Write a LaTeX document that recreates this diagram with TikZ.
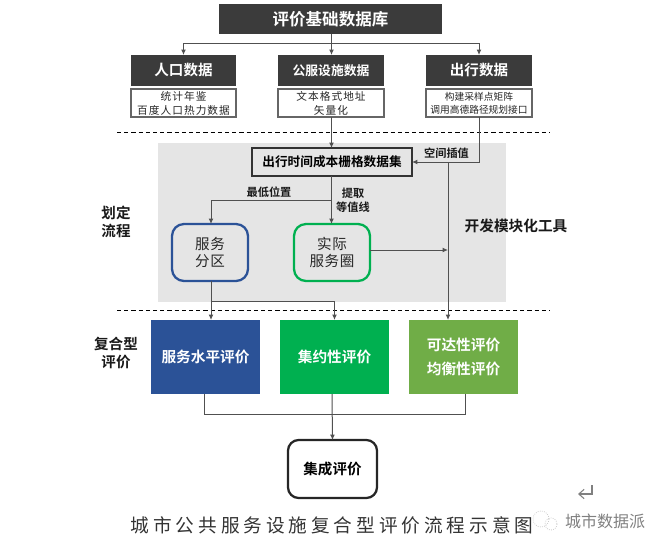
\documentclass[tikz,border=0pt]{standalone}
\usepackage{fontspec}
\setmainfont{Noto Sans CJK SC}[BoldFont={Noto Sans CJK SC Bold}]
\newfontfamily\capfont{Noto Sans CJK SC}[LetterSpace=21]
\newfontfamily\subfont{Noto Sans CJK SC}[LetterSpace=10]
\newfontfamily\softfont{Noto Sans CJK SC}[LetterSpace=4]
\usetikzlibrary{arrows.meta}
\definecolor{darkbox}{HTML}{3B3B3B}
\definecolor{panel}{HTML}{E5E5E5}
\definecolor{blueA}{HTML}{2B5297}
\definecolor{greenA}{HTML}{00B050}
\definecolor{greenB}{HTML}{70AD47}
\definecolor{wire}{HTML}{505050}
\tikzset{
  x=0.75pt,y=-0.75pt,
  sz/.style 2 args={minimum width=#1*0.75pt,minimum height=#2*0.75pt,inner sep=0pt,outer sep=0pt},
  darkhead/.style={fill=darkbox,draw=none,text=white},
  subbox/.style={draw=gray!80!black,line width=0.9pt,fill=white,align=center,text=black!85},
  roundbox/.style={rounded corners=9pt,fill=panel,line width=1.7pt,align=center,text=black!85},
  scorebox/.style={draw=none,text=white,align=center},
  lbl/.style={inner sep=0pt,outer sep=0pt,align=center,text=black!90},
  bold/.style 2 args={font=\bfseries\fontsize{#1}{#2}\selectfont},
  wireline/.style={draw=wire,line width=0.75pt},
  arr/.style={wireline,-{Latex[length=4pt,width=3.6pt]}},
  sep/.style={draw=black,line width=0.7pt,dash pattern=on 3.2pt off 2.2pt},
}
\begin{document}
\begin{tikzpicture}
\useasboundingbox (0,0) rectangle (665,550);
\fill[panel] (158,143) rectangle (506,302);
\draw[sep] (117,132) -- (550,132);
\draw[sep] (117,310) -- (550,310);

\node[darkhead,sz={223}{30},bold={12.4pt}{15pt}] (db) at (330.5,19) {评价基础数据库};
\node[darkhead,sz={105}{31},bold={10.9pt}{13pt}] (pop) at (183.5,70.5) {人口数据};
\node[darkhead,sz={106}{31},bold={9.6pt}{13pt}] (fac) at (331,70.5) {公服设施数据};
\node[darkhead,sz={106}{31},bold={10.9pt}{13pt}] (trv) at (479,70.5) {出行数据};
\node[subbox,sz={105}{28},font=\subfont\fontsize{8pt}{10.5pt}\selectfont] (popS) at (183.5,103) {统计年鉴\\百度人口热力数据};
\node[subbox,sz={106}{28},font=\subfont\fontsize{8pt}{10.5pt}\selectfont] (facS) at (331,103) {文本格式地址\\矢量化};
\node[subbox,sz={106}{28},font=\fontsize{7.3pt}{10pt}\selectfont] (trvS) at (479,103) {构建采样点矩阵\\调用高德路径规划接口};

\node[draw=black!80,fill=panel,line width=1pt,sz={160}{28},bold={9.5pt}{12pt}] (grid) at (332,162) {出行时间成本栅格数据集};
\node[roundbox,draw=blueA,sz={76}{57},font=\softfont\fontsize{10.9pt}{13pt}\selectfont] (zone) at (210,252.5) {服务\\分区};
\node[roundbox,draw=greenA,sz={76}{57},font=\softfont\fontsize{10.9pt}{13pt}\selectfont] (circ) at (332,252.5) {实际\\服务圈};

\node[scorebox,fill=blueA,sz={109}{74},bold={11pt}{13pt}] (svc) at (205.5,357) {服务水平评价};
\node[scorebox,fill=greenA,sz={109}{74},bold={11pt}{13pt}] (int) at (334.5,357) {集约性评价};
\node[scorebox,fill=greenB,sz={109}{74},bold={11pt}{17.3pt}] (acc) at (463.5,357) {可达性评价\\均衡性评价};
\node[draw=black!85,fill=white,line width=1.7pt,rounded corners=8pt,sz={89}{58},bold={10.9pt}{13pt}] (all) at (332.5,469) {集成评价};

\node[lbl,bold={8.4pt}{10pt}] (tSpace) at (446.5,153) {空间插值};
\node[lbl,bold={8.4pt}{10pt}] (tLow) at (269,192) {最低位置};
\node[lbl,bold={8.4pt}{10.6pt}] (tExt) at (353,200) {提取\\等值线};
\node[lbl,bold={10.9pt}{14pt}] (tFlow) at (116,222) {划定\\流程};
\node[lbl,bold={11pt}{13pt}] (tTool) at (516,226) {开发模块化工具};
\node[lbl,bold={10.9pt}{13.5pt}] (tComp) at (116,353) {复合型\\评价};
\node[inner sep=0pt,text=black!80,font=\capfont\fontsize{14pt}{16pt}\selectfont] (cap) at (332,525) {城市公共服务设施复合型评价流程示意图};
\node[inner sep=0pt,text=gray,font=\fontsize{12pt}{14pt}\selectfont] (mark) at (605,521) {城市数据派};

% connectors
\coordinate (topBus) at (331.5,43);
\coordinate (midX) at (331.5,200);
\coordinate (lowBus) at (211,301);
\coordinate (toolX) at (448,250);
\coordinate (botBus) at (332,414);
\coordinate (trvBend) at (479,162);
\draw[wireline] (topBus |- db.south) -- (topBus);
\draw[arr] (topBus) -- (topBus |- fac.north);
\draw[arr] (topBus) -| (pop.north);
\draw[arr] (topBus) -| (trv.north);
\draw[arr] (topBus |- facS.south) -- (topBus |- grid.north);
\draw[arr] (trvS.south) -- (trvBend) -- (grid.east);
\draw[arr] (toolX |- grid.east) -- (toolX |- acc.north);
\draw[arr] (topBus |- grid.south) -- (topBus |- circ.north);
\draw[arr] (midX) -| (lowBus |- zone.north);
\draw[arr] (circ.east |- toolX) -- (toolX);
\draw[arr] (lowBus |- zone.south) -- (lowBus |- svc.north);
\draw[arr] (lowBus) -| (int.north);
\draw[wireline] (204,394) |- (botBus) ;
\draw[wireline] (465,394) |- (botBus);
\draw[arr] (botBus |- int.south) -- (all.north);

% return mark and watermark icon
\coordinate (retA) at (592,485);
\draw[gray,line width=0.8pt,-{Straight Barb[length=4pt,width=7pt]}] (retA) -- (592,494) -- (578,494);
\draw[gray!40,line width=0.6pt,densely dotted] (541,519) circle[radius=8];
\draw[gray!40,line width=0.6pt,densely dotted] (551,524) circle[radius=6];
\end{tikzpicture}
\end{document}
